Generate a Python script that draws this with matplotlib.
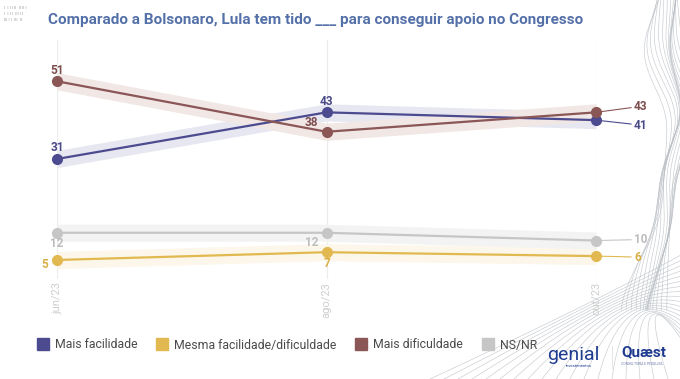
import numpy as np
import matplotlib
matplotlib.use("Agg")
import matplotlib.pyplot as plt
from matplotlib.lines import Line2D

plt.rcParams["font.family"] = ["Roboto", "DejaVu Sans"]

# data
waves = ["jun/23", "ago/23", "out/23"]
mais_facilidade = [31, 43, 41]
mesma = [5, 7, 6]
mais_dificuldade = [51, 38, 43]
ns_nr = [12, 12, 10]
margin = 2.2

series = [
    ("Mais facilidade", mais_facilidade, "#4c4b8f", "#e7e7f1", "#4a4988"),
    ("Mesma facilidade/dificuldade", mesma, "#e2b950", "#fcf7ea", "#d9af45"),
    ("Mais dificuldade", mais_dificuldade, "#8a5656", "#f1e7e5", "#7d4d4d"),
    ("NS/NR", ns_nr, "#c6c6c6", "#f3f3f3", "#bdbdbd"),
]

# label offsets in pixels (dx, dy) for first and middle points
label_offsets = {
    "Mais facilidade": [(0, 11), (0, 11)],
    "Mesma facilidade/dificuldade": [(-12, -5), (0, -11)],
    "Mais dificuldade": [(0, 11), (-15, 9)],
    "NS/NR": [(0, -11), (-15, -10)],
}
end_offsets = {
    "Mais facilidade": -5,
    "Mesma facilidade/dificuldade": -1,
    "Mais dificuldade": 6,
    "NS/NR": 1,
}

W, H = 680, 379
fig = plt.figure(figsize=(W / 100, H / 100), dpi=100)

# background decoration (wavy lines on the right)
deco = fig.add_axes([0, 0, 1, 1], zorder=0)
deco.set_xlim(0, W)
deco.set_ylim(H, 0)
deco.axis("off")
yy = np.linspace(0, 310, 250)
cy = [0, 50, 110, 170, 230, 290, 310]
cx = [674, 668, 684, 666, 668, 652, 645]
base = np.convolve(np.pad(np.interp(yy, cy, cx), 15, mode="edge"), np.ones(31) / 31, mode="valid")
for k in range(16):
    o = (k - 8) * 1.8
    xx = base + o * (1 + 0.8 * np.sin(yy / 38 + k * 0.35))
    deco.plot(xx, yy, color="#b9bec4", lw=0.45, alpha=0.8)
t = np.linspace(0, 1, 100)
for k in range(18):
    x0, y0 = 430 + k * 14, 379
    x1, y1 = 600 + k * 2, 300 - k * 2
    x2, y2 = 690, 250 + k * 6
    xs = (1 - t) ** 2 * x0 + 2 * (1 - t) * t * x1 + t ** 2 * x2
    ys = (1 - t) ** 2 * y0 + 2 * (1 - t) * t * y1 + t ** 2 * y2
    deco.plot(xs, ys, color="#b9bec4", lw=0.45, alpha=0.8)

# tiny marks top-left
for i, s in enumerate(["I  I I I II  II II I", "I  I I I  III I I", "III I I  III  II"]):
    deco.text(4, 8 + i * 6, s, fontsize=3.2, color="#9a9a9a", va="center")

# main axes: x 0..2 -> px 57..596, y 0 at px 279.4, 3.885 px/unit
y_top = 279.4 - 61.5 * 3.885
ax = fig.add_axes([57 / W, 1 - 279.4 / H, (596 - 57) / W, (279.4 - y_top) / H], zorder=2)
ax.set_xlim(0, 2)
ax.set_ylim(0, 61.5)
ax.patch.set_alpha(0)
for sp in ax.spines.values():
    sp.set_visible(False)
ax.set_yticks([])
x = np.arange(len(waves))
ax.set_xticks(x)
ax.set_xticklabels(waves, rotation=90, color="#cfcfcf", fontsize=8, va="top")
ax.tick_params(axis="x", length=0, pad=2)
for xi in x:
    ax.axvline(xi, color="#ececec", lw=0.8, zorder=0)

px2pt = 0.72
for name, vals, col, band, lab in series:
    v = np.array(vals, dtype=float)
    ax.fill_between(x, v - margin, v + margin, color=band, lw=0, zorder=1)
for name, vals, col, band, lab in series:
    ax.plot(x, vals, color=col, lw=1.6, marker="o", markersize=7, zorder=3, clip_on=False)
    for i in range(2):
        dx, dy = label_offsets[name][i]
        ax.annotate(str(vals[i]), (x[i], vals[i]), xytext=(dx * px2pt, dy * px2pt),
                    textcoords="offset points", ha="center", va="center",
                    fontsize=8.5, fontweight="bold", color=lab)
    ax.annotate(str(vals[2]), (x[2], vals[2]),
                xytext=(38 * px2pt, end_offsets[name] * px2pt),
                textcoords="offset points", ha="left", va="center",
                fontsize=8.5, fontweight="bold", color=lab,
                arrowprops=dict(arrowstyle="-", color=col, lw=0.8, shrinkA=0, shrinkB=1))

# title
fig.text(48 / W, 1 - 20 / H, "Comparado a Bolsonaro, Lula tem tido ___ para conseguir apoio no Congresso",
         fontsize=11, fontweight="bold", color="#5470a8", va="center", ha="left")

# legend
handles = [Line2D([], [], ls="none", marker="s", markersize=8, color=s[2]) for s in series]
fig.legend(handles, [s[0] for s in series], loc="center left", bbox_to_anchor=(27 / W, 1 - 345 / H),
           ncol=4, frameon=False, fontsize=8.8, handlelength=0.8, handletextpad=0.6,
           columnspacing=1.6, labelcolor="#4a4a4a")

# logos
fig.text(547 / W, 1 - 355 / H, "genial", fontsize=14, color="#1f3b8f", va="center", ha="left")
fig.text(566 / W, 1 - 366 / H, "investimentos", fontsize=3, color="#1f3b8f", va="center", ha="left")
deco.plot([612, 612], [346, 368], color="#e0e0e0", lw=0.6)
fig.text(621 / W, 1 - 352 / H, "Quæst", fontsize=11, fontweight="bold", color="#1f3b8f",
         va="center", ha="left")
fig.text(621 / W, 1 - 364 / H, "CONSULTORIA E PESQUISA", fontsize=2.4, color="#6a7aa8",
         va="center", ha="left")

fig.savefig("out.png", dpi=100)
